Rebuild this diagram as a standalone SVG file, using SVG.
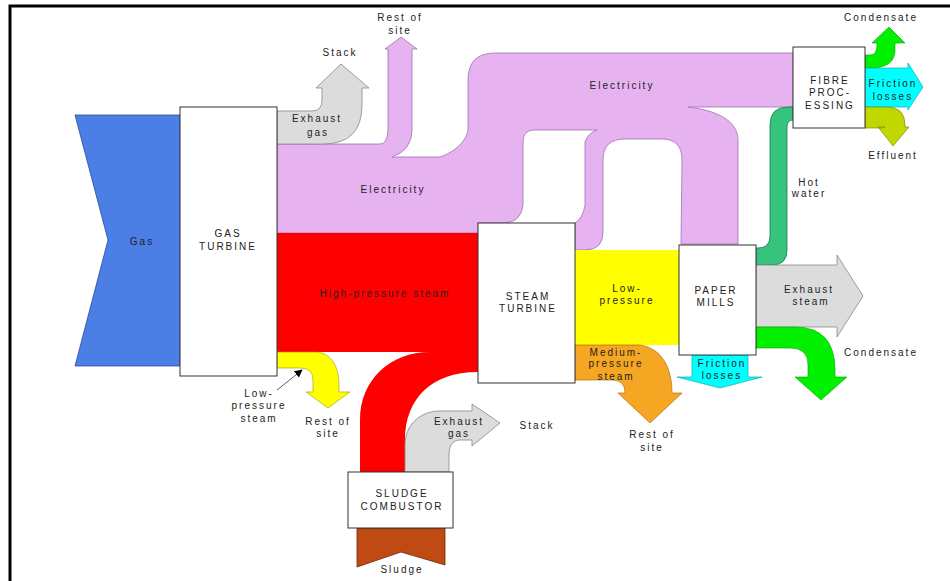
<svg xmlns="http://www.w3.org/2000/svg" width="950" height="581" viewBox="0 0 950 581">
<style>
text{font-family:"Liberation Sans",Arial,sans-serif;font-size:10px;letter-spacing:2px;fill:#222;text-anchor:middle}
.box{fill:#fff;stroke:#333;stroke-width:1}
.elec{fill:#e6b3f0;stroke:#a070b0;stroke-width:0.8}
.exh{fill:#dcdcdc;stroke:#888;stroke-width:0.8}
.frame{stroke:#000;stroke-width:3;fill:none}
</style>
<defs>
<marker id="ah" viewBox="0 0 10 10" refX="9" refY="5" markerWidth="8" markerHeight="8" orient="auto" markerUnits="userSpaceOnUse">
<path d="M0,0 L10,5 L0,10 Z" fill="#000"/>
</marker>
</defs>
<rect width="950" height="581" fill="#fff"/>
<path class="frame" d="M10,581 L10,6 L950,6"/>

<g id="connectors">
<!-- Gas input -->
<polygon points="75,115 180,115 180,366 75,366 108,240" fill="#4b7fe6" stroke="#2a4a9a" stroke-width="0.8"/>
<!-- Electricity -->
<path class="elec" d="M277,144 L380,144 Q388,144 388,128 L388,49 L385,49 L401,37 L417,49 L412,49 L412,130 Q412,150 392,157 L440,157 C455,152 468,140 468,128 L468,80 Q468,53 495,53 L793,53 L793,107 L688,107 C715,110 738,120 738,140 L738,244 L681,244 L682,160 Q682,139 662,139 L625,139 Q603,139 603,160 L603,232 Q603,250 585,250 L575,250 L575,223 Q583,218 585,205 L585,142 Q588,133 597,130 L533,130 Q523,131 523,142 L523,205 Q521,222 505,223 L478,223 L478,233 L277,233 Z"/>
<!-- Exhaust gas (gas turbine) -->
<path class="exh" d="M277,111 L312,111 Q322,111 322,100 L322,88 L316,88 L341,64 L369,88 L362,88 L362,105 Q362,144 323,144 L277,144 Z"/>
<!-- High-pressure steam -->
<path d="M277,233 L478,233 L478,372 C430,372 405,400 405,440 L405,472 L360,472 L360,420 C360,380 390,352 430,352 L277,352 Z" fill="#ff0000"/>
<!-- Low-pressure steam from gas turbine -->
<path d="M277,352 L315,352 C330,352 339,365 339,385 L339,392 L350,392 L328,408 L306,392 L313,392 L313,380 Q313,368 300,368 L277,368 Z" fill="#ffff00" stroke="#999900" stroke-width="0.6"/>
<!-- Exhaust gas (sludge) -->
<path class="exh" d="M405,472 L405,445 C405,425 420,411 440,411 L472,411 L472,404 L500,423 L472,446 L472,440 L460,440 C452,440 449,447 449,455 L449,472 Z"/>
<!-- Sludge input -->
<polygon points="357,528 445,528 445,565 401,552 357,567" fill="#c04a14" stroke="#6a2a08" stroke-width="0.8"/>
<!-- Low-pressure (steam turbine to paper mills) -->
<rect x="575" y="250" width="104" height="95" fill="#ffff00"/>
<!-- Medium-pressure steam -->
<path d="M575,345 L640,345 C660,348 672,365 672,393 L682,393 L650,423 L618,393 L625,393 Q625,380 612,380 L575,380 Z" fill="#f5a623" stroke="#a06000" stroke-width="0.6"/>
<!-- Hot water -->
<path d="M793,107 L788,107 Q770,107 770,125 L770,236 Q770,248 758,248 L756,248 L756,265 L772,265 Q787,265 787,250 L787,127 Q787,120 793,120 Z" fill="#36c47c" stroke="#1a7a4a" stroke-width="0.8"/>
<!-- Exhaust steam -->
<path class="exh" d="M756,265 L837,265 L837,255 L863,296 L837,337 L837,327 L756,327 Z"/>
<!-- Condensate (paper mills) -->
<path d="M756,327 L795,327 Q835,327 835,370 L835,377 L847,377 L821,400 L795,377 L808,377 L808,365 Q808,348 790,348 L756,348 Z" fill="#00f000" stroke="#00a000" stroke-width="0.6"/>
<!-- Friction losses (paper mills) -->
<path d="M692,355 L748,355 L748,377 L762,377 L720,388 L677,377 L692,377 Z" fill="#00ffff" stroke="#00a0a0" stroke-width="0.6"/>
<!-- Condensate (fibre) -->
<path d="M865,55 L870,55 Q877,55 877,45 L877,43 L872,43 L889,27 L905,43 L895,43 L895,50 Q895,68 870,68 L865,68 Z" fill="#00f000" stroke="#00a000" stroke-width="0.6"/>
<!-- Friction losses (fibre) -->
<path d="M865,68 L908,68 L908,63 L923,87 L908,110 L908,107 L865,107 Z" fill="#00ffff" stroke="#00a0a0" stroke-width="0.6"/>
<!-- Effluent -->
<path d="M865,107 L887,107 Q905,107 905,125 L905,127 L909,127 L893,146 L878,127 L885,127 Q884,128 880,128 L865,128 Z" fill="#c0d800" stroke="#708000" stroke-width="0.6"/>
<!-- annotation arrow -->
<line x1="277" y1="390" x2="302" y2="370" stroke="#333" stroke-width="0.8" marker-end="url(#ah)"/>
</g>

<g id="gas-turbine">
<rect class="box" x="180" y="107" width="97" height="269"/>
<text x="228" y="237">GAS</text>
<text x="228" y="250">TURBINE</text>
</g>
<g id="steam-turbine">
<rect class="box" x="478" y="223" width="97" height="160"/>
<text x="528" y="300">STEAM</text>
<text x="528" y="312">TURBINE</text>
</g>
<g id="paper-mills">
<rect class="box" x="679" y="245" width="77" height="110"/>
<text x="716" y="294">PAPER</text>
<text x="716" y="306">MILLS</text>
</g>
<g id="fibre-processing">
<rect class="box" x="793" y="47" width="72" height="81"/>
<text x="830" y="84">FIBRE</text>
<text x="830" y="96">PROC-</text>
<text x="830" y="109">ESSING</text>
</g>
<g id="sludge-combustor">
<rect class="box" x="348" y="472" width="105" height="56"/>
<text x="402" y="497">SLUDGE</text>
<text x="402" y="510">COMBUSTOR</text>
</g>

<g id="labels">
<text x="142" y="245">Gas</text>
<text x="317" y="122">Exhaust</text>
<text x="318" y="136">gas</text>
<text x="340" y="56">Stack</text>
<text x="400" y="21">Rest of</text>
<text x="400" y="34">site</text>
<text x="622" y="89">Electricity</text>
<text x="393" y="193">Electricity</text>
<text x="881" y="21">Condensate</text>
<text x="893" y="87">Friction</text>
<text x="893" y="100">losses</text>
<text x="893" y="159">Effluent</text>
<text x="809" y="186">Hot</text>
<text x="809" y="197">water</text>
<text x="385" y="297">High-pressure steam</text>
<text x="627" y="292">Low-</text>
<text x="627" y="304">pressure</text>
<text x="809" y="293">Exhaust</text>
<text x="811" y="305">steam</text>
<text x="881" y="356">Condensate</text>
<text x="722" y="367">Friction</text>
<text x="722" y="379">losses</text>
<text x="616" y="356">Medium-</text>
<text x="616" y="367">pressure</text>
<text x="616" y="380">steam</text>
<text x="652" y="438">Rest of</text>
<text x="652" y="451">site</text>
<text x="259" y="397">Low-</text>
<text x="259" y="409">pressure</text>
<text x="259" y="422">steam</text>
<text x="328" y="425">Rest of</text>
<text x="328" y="437">site</text>
<text x="459" y="425">Exhaust</text>
<text x="459" y="437">gas</text>
<text x="537" y="429">Stack</text>
<text x="402" y="573">Sludge</text>
</g>
</svg>
